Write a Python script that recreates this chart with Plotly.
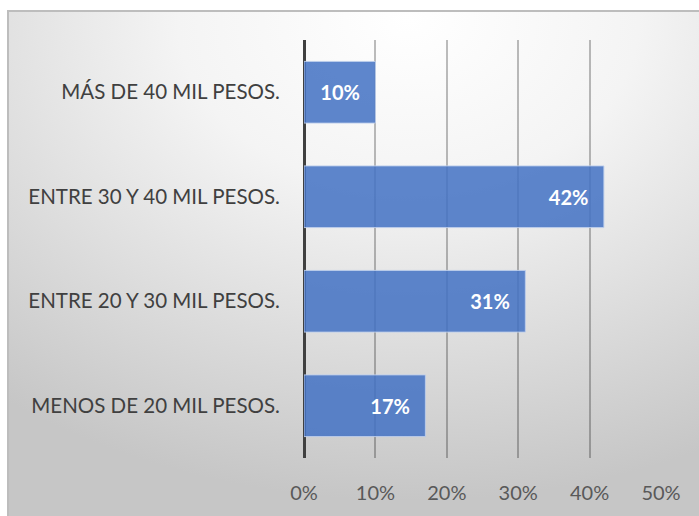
import base64
import plotly.graph_objects as go

# Income brackets (bottom to top) and their share of responses
categories = [
    "MENOS DE 20 MIL PESOS.",
    "ENTRE 20 Y 30 MIL PESOS.",
    "ENTRE 30 Y 40 MIL PESOS.",
    "MÁS DE 40 MIL PESOS.",
]
shares = [0.17, 0.31, 0.42, 0.10]
tick_values = [0, 0.1, 0.2, 0.3, 0.4, 0.5]
tick_labels = ["0%", "10%", "20%", "30%", "40%", "50%"]

W, H = 699, 516
ML, MR, MT, MB = 304, 38, 40, 58
pw, ph = W - ML - MR, H - MT - MB

# Soft radial-gradient chart area with a thin frame
svg = f"""<svg xmlns='http://www.w3.org/2000/svg' width='692' height='506' viewBox='0 0 692 506'>
<defs><radialGradient id='g' cx='0.58' cy='0.02' r='0.95' gradientUnits='objectBoundingBox'>
<stop offset='0' stop-color='#ffffff'/><stop offset='0.35' stop-color='#f4f4f4'/>
<stop offset='1' stop-color='#c6c6c6'/></radialGradient></defs>
<rect x='0' y='0' width='692' height='506' fill='url(#g)'/>
<path d='M1 506 L1 1 L692 1' fill='none' stroke='#bdbdbd' stroke-width='2'/>
</svg>"""
bg_src = "data:image/svg+xml;base64," + base64.b64encode(svg.encode()).decode()

frame_x0, frame_y0 = 7, 10
img_x = (frame_x0 - ML) / pw
img_y = (H - MB - frame_y0) / ph
img_w = (W - frame_x0) / pw
img_h = (H - frame_y0) / ph

# Value labels sit a little in from the bar ends
label_pad = "\u2002\u2009"

fig = go.Figure(
    go.Bar(
        x=shares,
        y=categories,
        orientation="h",
        marker=dict(color="rgba(68,114,196,0.86)", line=dict(color="rgba(190,206,236,0.9)", width=1)),
        text=[f"{v:.0%}{label_pad}" for v in shares],
        textposition="inside",
        insidetextanchor="end",
        textfont=dict(family="Lato", size=20, color="white", weight="bold"),
        hoverinfo="skip",
    )
)

fig.update_layout(
    width=W,
    height=H,
    margin=dict(l=ML, r=MR, t=MT, b=MB),
    paper_bgcolor="white",
    plot_bgcolor="rgba(0,0,0,0)",
    bargap=0.41,
    showlegend=False,
    font=dict(family="Lato", size=20, color="#595959"),
    images=[
        dict(
            source=bg_src,
            xref="paper",
            yref="paper",
            x=img_x,
            y=img_y,
            sizex=img_w,
            sizey=img_h,
            xanchor="left",
            yanchor="top",
            sizing="stretch",
            layer="below",
        )
    ],
    xaxis=dict(
        range=[0, 0.5],
        tickvals=tick_values,
        ticktext=tick_labels,
        showgrid=True,
        gridcolor="rgba(0,0,0,0.26)",
        gridwidth=2,
        zeroline=True,
        zerolinecolor="#404040",
        zerolinewidth=3,
        showline=False,
        ticks="outside",
        ticklen=17,
        tickcolor="rgba(0,0,0,0)",
        tickfont=dict(family="Lato", size=20, color="#595959"),
        fixedrange=True,
    ),
    yaxis=dict(
        showgrid=False,
        zeroline=False,
        showline=False,
        ticks="outside",
        ticklen=19,
        tickcolor="rgba(0,0,0,0)",
        tickfont=dict(family="Lato", size=20.5, color="#404040"),
        fixedrange=True,
    ),
)

fig.write_html("out.html")
